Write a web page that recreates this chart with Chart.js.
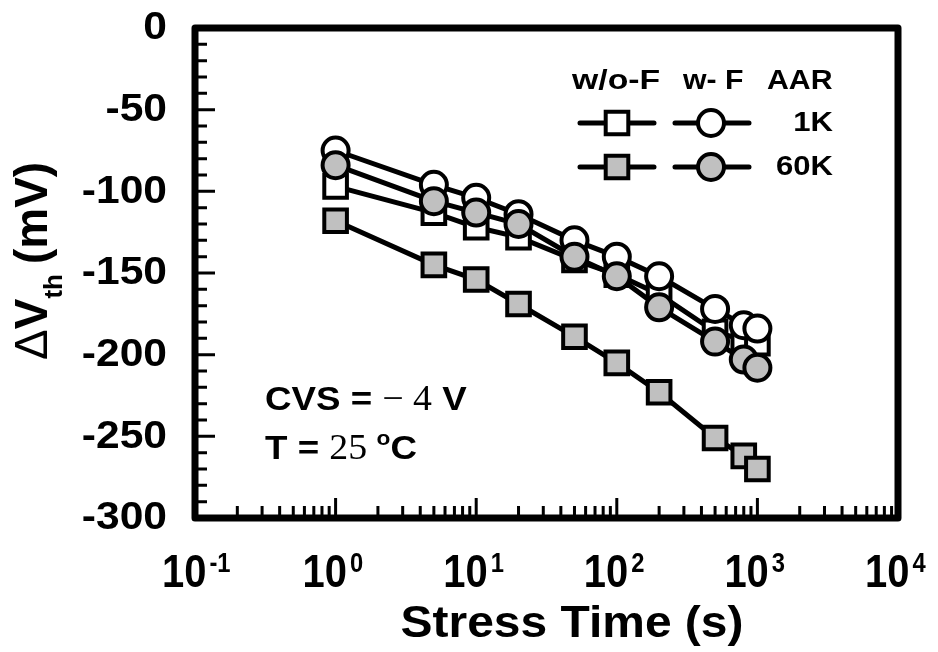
<!DOCTYPE html>
<html>
<head>
<meta charset="utf-8">
<script src="https://cdn.jsdelivr.net/npm/chart.js@4"></script>
<style>
    body { margin: 0; background: #fff; }
    #wrap { width: 938px; height: 652px; }
</style>
</head>
<body>
<div id="wrap"><canvas id="chartVth"></canvas></div>
<script>
// stress time (s) and threshold shift (mV)
const tempos = [1, 5, 10, 20, 50, 100, 200, 500, 800, 1000];
const semF1K = [-97, -113, -122, -128, -142, -151, -163, -186, -191, -193];
const semF60K = [-118, -145, -154, -169, -189, -205, -223, -251, -262, -270];
const comF1K = [-75, -96, -104, -114, -130, -140, -152, -172, -182, -184];
const comF60K = [-84, -106, -113, -120, -140, -152, -171, -192, -203, -208];

const yTicks = [0, -50, -100, -150, -200, -250, -300];
const xDecadas = [-1, 0, 1, 2, 3, 4];

const CINZA = '#c0c0c0';
const SANS = '"Liberation Sans", Arial, sans-serif';
const SERIF = '"Liberation Serif", "Times New Roman", serif';

function pontos(valores) {
    return tempos.map((t, i) => ({ x: t, y: valores[i] }));
}

function serie(label, valores, estilo, cor, ordem) {
    return {
        label: label,
        data: pontos(valores),
        borderColor: '#000',
        borderWidth: 5,
        pointStyle: estilo,
        pointRadius: estilo === 'rect' ? 16 : 13,
        pointBorderWidth: 4,
        pointBackgroundColor: cor,
        pointBorderColor: '#000',
        order: ordem
    };
}

function medir(ctx, s, font) {
    ctx.save();
    ctx.font = font;
    const w = ctx.measureText(s).width;
    ctx.restore();
    return w;
}

// one line of text made of pieces: [texto, fonte, escalaX, deslocY]
function linha(ctx, partes, x, y) {
    let px = x;
    partes.forEach(p => {
        ctx.save();
        ctx.fillStyle = '#000';
        ctx.font = p[1];
        ctx.translate(px, y + (p[3] || 0));
        ctx.scale(p[2], 1);
        ctx.fillText(p[0], 0, 0);
        ctx.restore();
        px += medir(ctx, p[0], p[1]) * p[2];
    });
}

function marcador(ctx, estilo, x, y, cor) {
    ctx.save();
    ctx.lineWidth = 4;
    ctx.strokeStyle = '#000';
    ctx.fillStyle = cor;
    ctx.beginPath();
    if (estilo === 'rect') {
        ctx.rect(x - 11.3, y - 11.3, 22.6, 22.6);
    } else {
        ctx.arc(x, y, 13, 0, Math.PI * 2);
    }
    ctx.fill();
    ctx.stroke();
    ctx.restore();
}

const eixosPlugin = {
    id: 'eixos',
    afterDraw(chart) {
        const ctx = chart.ctx;
        const area = chart.chartArea;
        const xs = chart.scales.x;
        const ys = chart.scales.y;

        // inward ticks on the left and bottom
        ctx.save();
        ctx.strokeStyle = '#000';
        ctx.lineWidth = 3;
        ctx.beginPath();
        for (let v = 0; v >= -300; v -= 10) {
            const py = ys.getPixelForValue(v);
            const len = v % 50 === 0 ? 20 : 12;
            ctx.moveTo(area.left, py);
            ctx.lineTo(area.left + len, py);
        }
        for (let d = -1; d < 4; d++) {
            for (let m = 1; m <= 9; m++) {
                const px = xs.getPixelForValue(m * Math.pow(10, d));
                const len = m === 1 ? 20 : 12;
                ctx.moveTo(px, area.bottom);
                ctx.lineTo(px, area.bottom - len);
            }
        }
        ctx.stroke();

        // frame
        ctx.lineWidth = 7;
        ctx.lineJoin = 'round';
        ctx.strokeRect(area.left, area.top, area.right - area.left, area.bottom - area.top);
        ctx.restore();

        // y tick labels
        yTicks.forEach(v => {
            const py = ys.getPixelForValue(v);
            ctx.save();
            ctx.font = 'bold 38px ' + SANS;
            ctx.textAlign = 'right';
            ctx.textBaseline = 'middle';
            ctx.translate(167, py + 1);
            ctx.scale(1.12, 1);
            ctx.fillText(String(v), 0, 0);
            ctx.restore();
        });

        // x tick labels 10^n
        xDecadas.forEach(d => {
            const px = xs.getPixelForValue(Math.pow(10, d));
            const fBase = 'bold 47px ' + SANS;
            const fExp = 'bold 27px ' + SANS;
            const wBase = medir(ctx, '10', fBase) * 0.85;
            const x0 = px - 33;
            ctx.save();
            ctx.fillStyle = '#000';
            ctx.font = fBase;
            ctx.translate(x0, 587);
            ctx.scale(0.85, 1);
            ctx.fillText('10', 0, 0);
            ctx.restore();
            ctx.save();
            ctx.font = fExp;
            ctx.translate(x0 + wBase + 3, 572);
            ctx.scale(0.88, 1);
            ctx.fillText(String(d), 0, 0);
            ctx.restore();
        });

        // x title
        ctx.save();
        ctx.font = 'bold 44px ' + SANS;
        ctx.textAlign = 'center';
        ctx.translate(572, 637);
        ctx.scale(1.09, 1);
        ctx.fillText('Stress Time (s)', 0, 0);
        ctx.restore();

        // y title, rotated
        ctx.save();
        ctx.translate(47, 360);
        ctx.rotate(-Math.PI / 2);
        let cx = 0;
        ctx.font = '46px ' + SANS;
        ctx.fillText('\u0394', cx, 0);
        cx += ctx.measureText('\u0394').width;
        ctx.font = 'bold 46px ' + SANS;
        ctx.fillText('V', cx, 0);
        cx += ctx.measureText('V').width;
        ctx.font = 'bold 26px ' + SANS;
        ctx.fillText('th', cx, 15);
        cx += ctx.measureText('th').width + 10;
        ctx.font = 'bold 46px ' + SANS;
        ctx.fillText('(mV)', cx, 0);
        ctx.restore();

        // stress conditions
        const fB = 'bold 34px ' + SANS;
        const fS = '36px ' + SERIF;
        linha(ctx, [['CVS = ', fB, 1.08], ['\u2212 4', fS, 1.05], [' V', fB, 1.08]], 265, 410);
        linha(ctx, [['T = ', fB, 1.08], ['25 ', fS, 1.05], ['o', 'bold 21px ' + SANS, 1.08, -14], ['C', fB, 1.08]], 265, 459);

        // legend
        const fL = 'bold 27px ' + SANS;
        [['w/o-F', 572, 1.25], ['w- F', 683, 1.12], ['AAR', 767, 1.12]].forEach(h => {
            ctx.save();
            ctx.font = fL;
            ctx.translate(h[1], 89);
            ctx.scale(h[2], 1);
            ctx.fillText(h[0], 0, 0);
            ctx.restore();
        });
        [[123, '#fff', '1K'], [167, CINZA, '60K']].forEach(r => {
            ctx.save();
            ctx.strokeStyle = '#000';
            ctx.lineWidth = 5;
            ctx.lineCap = 'round';
            ctx.beginPath();
            ctx.moveTo(580, r[0]); ctx.lineTo(654, r[0]);
            ctx.moveTo(675, r[0]); ctx.lineTo(749, r[0]);
            ctx.stroke();
            ctx.restore();
            marcador(ctx, 'rect', 617, r[0], r[1]);
            marcador(ctx, 'circle', 711, r[0], r[1]);
            ctx.save();
            ctx.font = fL;
            ctx.textAlign = 'right';
            ctx.textBaseline = 'middle';
            ctx.translate(833, r[0] + 1);
            ctx.scale(1.15, 1);
            ctx.fillText(r[2], 0, 0);
            ctx.restore();
        });
    }
};

const ctx = document.getElementById('chartVth');

new Chart(ctx, {
    type: 'line',
    data: {
        datasets: [
            serie('w/o-F 1K', semF1K, 'rect', '#fff', 2),
            serie('w/o-F 60K', semF60K, 'rect', CINZA, 3),
            serie('w- F 1K', comF1K, 'circle', '#fff', 1),
            serie('w- F 60K', comF60K, 'circle', CINZA, 0)
        ]
    },
    options: {
        responsive: true,
        maintainAspectRatio: false,
        animation: false,
        layout: {
            padding: { left: 195, right: 40, top: 28, bottom: 134 }
        },
        plugins: {
            legend: { display: false },
            tooltip: { enabled: false }
        },
        scales: {
            x: {
                type: 'logarithmic',
                min: 0.1,
                max: 10000,
                display: false
            },
            y: {
                type: 'linear',
                min: -300,
                max: 0,
                display: false
            }
        }
    },
    plugins: [eixosPlugin]
});
</script>
</body>
</html>
